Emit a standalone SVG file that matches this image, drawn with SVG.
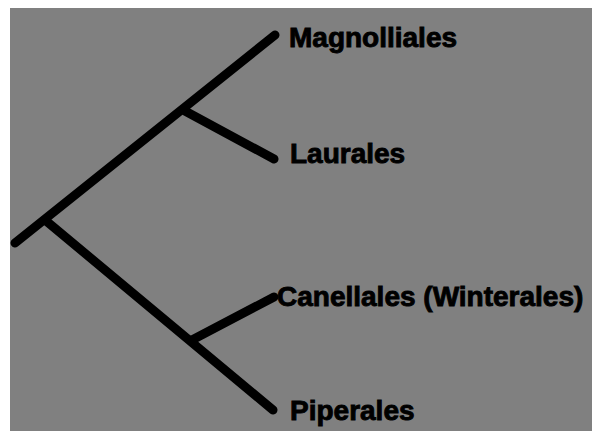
<svg xmlns="http://www.w3.org/2000/svg" width="592" height="431" viewBox="0 0 592 431">
<style>
.br{stroke:#000;stroke-width:9;stroke-linecap:round;fill:none}
.lb{font-family:"Liberation Sans",Arial,sans-serif;font-weight:bold;font-size:28px;fill:#000;stroke:#000;stroke-width:0.9}
</style>
<rect width="592" height="431" fill="#ffffff"/>
<rect x="10" y="8" width="582" height="423" fill="#808080"/>
<g id="connectors">
<line class="br" x1="15" y1="243" x2="275" y2="35"/>
<line class="br" x1="45" y1="220" x2="273" y2="410"/>
<line class="br" x1="185" y1="111" x2="274" y2="159"/>
<line class="br" x1="192" y1="340" x2="274" y2="297"/>
</g>
<g id="magnolliales"><text class="lb" x="289" y="47">Magnolliales</text></g>
<g id="laurales"><text class="lb" x="290" y="163">Laurales</text></g>
<g id="canellales"><text class="lb" x="277" y="306">Canellales (Winterales)</text></g>
<g id="piperales"><text class="lb" x="290" y="420">Piperales</text></g>
</svg>
